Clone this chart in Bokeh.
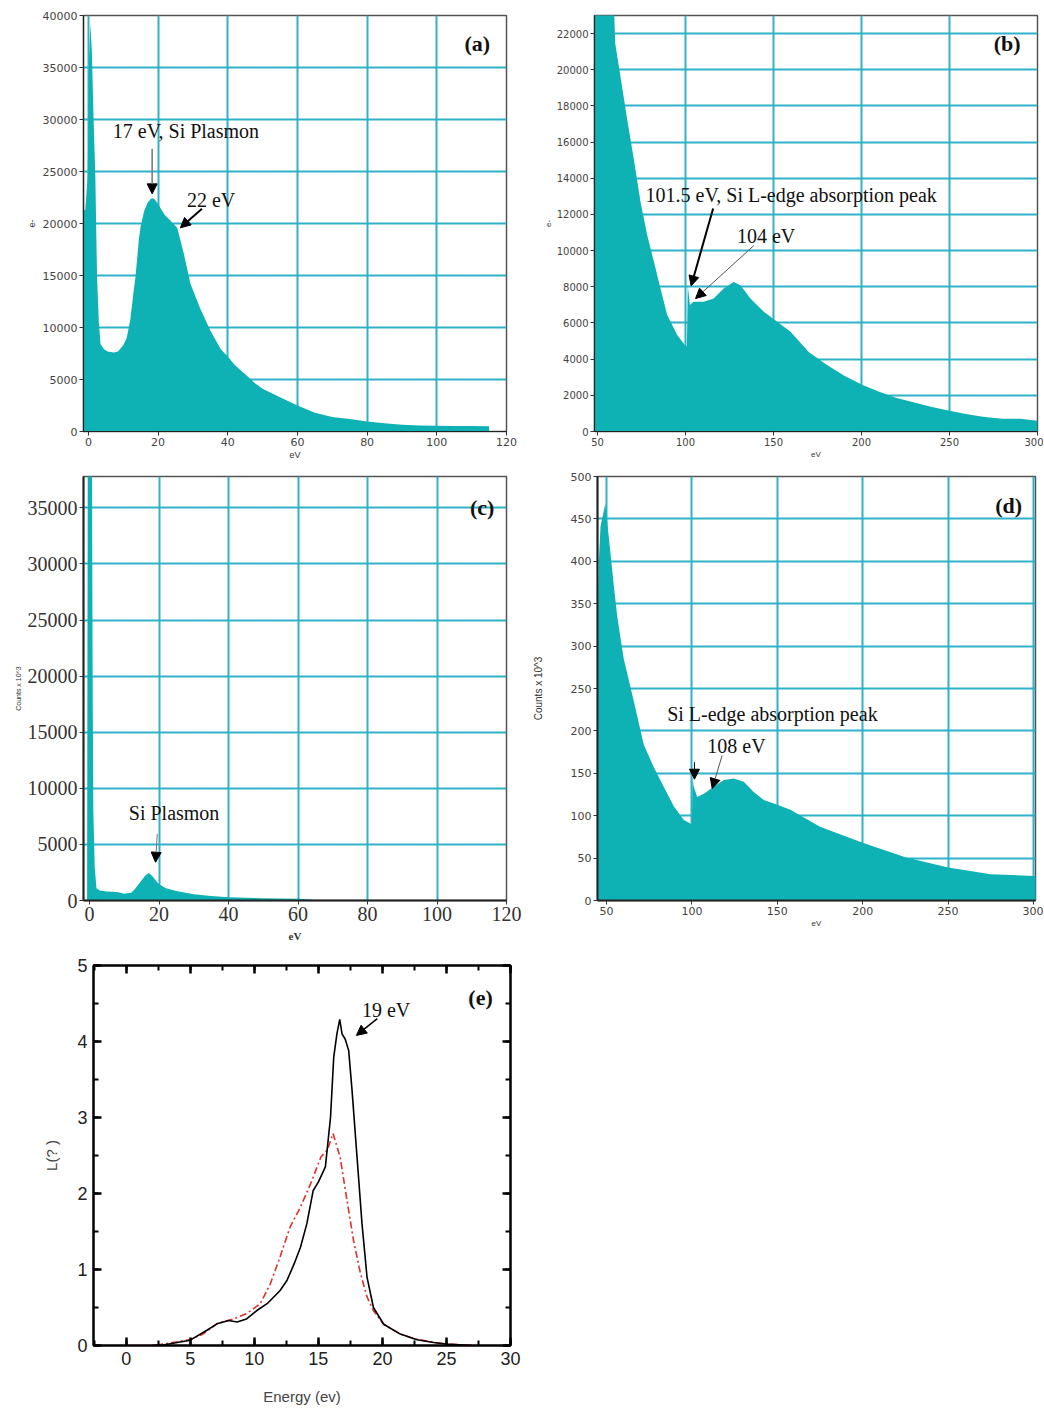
from bokeh.plotting import figure
from bokeh.layouts import column, row
from bokeh.models import (Range1d, FixedTicker, SingleIntervalTicker, LinearAxis,
                          Label, Arrow, NormalHead)
from bokeh.embed import file_html
from bokeh.resources import INLINE

# ---------------- data ----------------
# (a) low-loss spectrum, 0-120 eV
a_ev = [-1.5, -0.9, -0.2, 0.2, 0.6, 1.0, 1.5, 2.0, 2.5, 3.0, 3.5, 4.5, 5.5, 7.3, 8.5,
        10.0, 11.0, 12.0, 13.0, 13.5, 14.5, 15.0, 16.0, 17.0, 18.0, 18.8, 20.0, 21.0,
        22.0, 23.5, 25.5, 27.4, 29.3, 32.0, 35.0, 38.0, 40.0, 42.0, 45.0, 48.0, 50.0,
        55.0, 60.0, 65.0, 70.0, 75.0, 80.0, 85.0, 90.0, 95.0, 100.0, 105.0, 110.0, 115.0]
a_counts = [21300, 21300, 24500, 36000, 39200, 36500, 30000, 24500, 14800, 10500, 8400,
            7900, 7700, 7600, 7700, 8300, 9000, 10700, 13500, 14800, 18500, 19700, 21200,
            22000, 22400, 22400, 21900, 21300, 20800, 20300, 19600, 17100, 14200, 11900,
            9700, 7900, 7200, 6400, 5500, 4600, 4100, 3300, 2500, 1800, 1400, 1200, 960,
            800, 650, 570, 550, 540, 520, 500]

# (b) core-loss spectrum, 50-300 eV
b_ev = [48.3, 55, 59.2, 60.1, 63.1, 66.9, 70.7, 74.5, 78.3, 82.1, 85.8, 89.6, 95.3, 99.5,
        100.8, 101.3, 102.5, 104.6, 110.3, 116, 121.7, 127.4, 131.2, 136.9, 144.5, 152.1,
        159.7, 170, 180, 190, 200, 210, 220, 230, 240, 250, 260, 270, 280, 290, 300]
b_counts = [30000, 28000, 24000, 21440, 19600, 17230, 15030, 12660, 10830, 9370, 7900,
            6440, 5340, 4790, 4700, 8080, 7000, 7170, 7170, 7350, 7900, 8270, 8080, 7350,
            6620, 6070, 5520, 4400, 3700, 3100, 2600, 2200, 1850, 1600, 1350, 1150, 950,
            800, 700, 700, 600]

# (c) low-loss spectrum, second sample
c_ev = [-0.7, -0.5, 0.7, 0.9, 1.1, 1.5, 2.0, 3.0, 5.0, 8.0, 10.0, 12.0, 13.0, 14.0, 15.0,
        16.0, 17.0, 18.0, 19.0, 20.0, 22.0, 25.0, 30.0, 35.0, 40.0, 50.0, 60.0, 64.0]
c_counts = [0, 40000, 40000, 20000, 8000, 3000, 1100, 900, 800, 750, 600, 700, 1000, 1400,
            1800, 2200, 2450, 2200, 1800, 1450, 1100, 850, 550, 400, 280, 200, 150, 100]

# (d) core-loss spectrum, second sample (counts x 10^3)
d_ev = [44.7, 45.5, 46.5, 49.3, 52.3, 54.3, 56.3, 60.1, 66.0, 71.8, 77.7, 83.5, 89.4, 95.3,
        98.8, 100.0, 100.4, 101.0, 103.1, 107.0, 112.8, 118.7, 124.5, 130.4, 136.2, 142.1,
        150, 157.7, 175, 200, 225, 250, 275, 300, 303.3]
d_counts = [300, 400, 441, 468, 410, 371, 335, 285, 235, 184, 157, 134, 111, 95, 91, 89,
            146, 135, 122, 126, 134, 142, 144, 140, 128, 118.5, 113, 107, 87, 68, 51, 39,
            31, 29, 28]

# (e) loss function
e_black_x = [2.0, 3.0, 4.0, 5.0, 6.3, 7.1, 8.0, 8.65, 9.4, 10.2, 11.0, 12.0, 12.55, 13.1,
             13.6, 14.1, 14.6, 15.0, 15.55, 15.95, 16.2, 16.45, 16.67, 16.85, 17.1, 17.37,
             17.63, 18.02, 18.41, 18.8, 19.3, 20.1, 21.4, 22.7, 24.0, 25.0, 26.0, 27.0]
e_black_y = [0.0, 0.01, 0.04, 0.07, 0.2, 0.285, 0.33, 0.31, 0.35, 0.46, 0.55, 0.72, 0.855,
             1.07, 1.29, 1.6, 2.04, 2.15, 2.35, 3.0, 3.79, 4.1, 4.29, 4.1, 4.03, 3.88, 3.36,
             2.48, 1.6, 0.9, 0.5, 0.28, 0.15, 0.075, 0.04, 0.02, 0.01, 0.0]
e_red_x = [0.0, 2.0, 3.0, 4.0, 5.0, 6.0, 7.1, 8.4, 9.4, 10.47, 11.25, 12.0, 12.8, 13.6,
           14.4, 15.2, 15.7, 16.15, 16.7, 17.2, 17.75, 18.3, 18.8, 19.3, 20.1, 21.4, 22.5,
           24.0, 25.0, 26.0, 27.0]
e_red_y = [0.0, 0.0, 0.02, 0.05, 0.08, 0.15, 0.29, 0.35, 0.42, 0.55, 0.81, 1.16, 1.56,
           1.82, 2.13, 2.48, 2.57, 2.79, 2.48, 1.95, 1.38, 0.94, 0.64, 0.46, 0.28, 0.15,
           0.09, 0.04, 0.02, 0.01, 0.0]

a_xticks = [0, 20, 40, 60, 80, 100, 120]
a_yticks = [0, 5000, 10000, 15000, 20000, 25000, 30000, 35000, 40000]
b_xticks = [50, 100, 150, 200, 250, 300]
b_yticks = list(range(0, 24000, 2000))
c_yticks = [0, 5000, 10000, 15000, 20000, 25000, 30000, 35000]
d_yticks = list(range(0, 550, 50))

FILL = "#0fb2b4"
GRID = "#2fb1c7"
SERIF = "Liberation Serif"
SANS_SMALL = "DejaVu Sans"


def spectrum(width, height, borders, xr, yr, xticks, yticks, xlabel, ylabel,
             tick_font, tick_size, tick_color, axis_line_w=1.2):
    l, r, t, b = borders
    p = figure(width=width, height=height, x_range=Range1d(*xr), y_range=Range1d(*yr),
               output_backend="svg", toolbar_location=None,
               min_border_left=l, min_border_right=r, min_border_top=t, min_border_bottom=b)
    p.outline_line_color = "#555555"
    p.outline_line_width = 1.5
    p.xaxis.ticker = FixedTicker(ticks=xticks)
    p.yaxis.ticker = FixedTicker(ticks=yticks)
    p.xgrid.ticker = FixedTicker(ticks=xticks)
    p.ygrid.ticker = FixedTicker(ticks=yticks)
    p.grid.grid_line_color = GRID
    p.grid.grid_line_width = 2
    p.xaxis.axis_label = xlabel
    p.yaxis.axis_label = ylabel
    for ax in (p.xaxis, p.yaxis):
        ax.axis_line_color = "#222222"
        ax.axis_line_width = axis_line_w
        ax.major_tick_line_color = "#333333"
        ax.major_tick_out = 4
        ax.major_tick_in = 0
        ax.minor_tick_line_color = None
        ax.major_label_text_font = tick_font
        ax.major_label_text_font_size = tick_size
        ax.major_label_text_color = tick_color
        ax.major_label_standoff = 2
        ax.axis_label_text_font_style = "normal"
        ax.axis_label_text_color = "#333333"
    return p


def ann(p, text, x, y, size="20px", bold=False, align="left"):
    p.add_layout(Label(x=x, y=y, text=text, text_font=SERIF, text_font_size=size,
                       text_font_style="bold" if bold else "normal",
                       text_color="#111111", text_align=align, text_baseline="middle"))


def arrow(p, x0, y0, x1, y1, color="black", w=1.5, head=10):
    p.add_layout(Arrow(x_start=x0, y_start=y0, x_end=x1, y_end=y1,
                       line_color=color, line_width=w,
                       end=NormalHead(size=head, fill_color="black", line_color="black")))


# ---------------- (a) ----------------
pa = spectrum(526, 468, (83, 20, 15, 37), (-1.4, 120), (0, 40000), a_xticks, a_yticks,
              "eV", "e-", SANS_SMALL, "11px", "#444444")
pa.xaxis.axis_label_text_font_size = "9px"
pa.yaxis.axis_label_text_font_size = "9px"
pa.xaxis.axis_label_standoff = 1
pa.varea(x=a_ev, y1=0, y2=a_counts, fill_color=FILL)
ann(pa, "17 eV, Si Plasmon", 7.0, 28940)
arrow(pa, 18.3, 27180, 18.3, 22850, color="#777777")
ann(pa, "22 eV", 28.3, 22300)
arrow(pa, 32.6, 21410, 26.4, 19590, w=2)
ann(pa, "(a)", 111.6, 37280, size="22px", bold=True, align="center")

# ---------------- (b) ----------------
pb = spectrum(517, 468, (68, 6, 15, 34), (48.3, 300), (0, 23000), b_xticks, b_yticks,
              "eV", "e-", SANS_SMALL, "10px", "#444444")
pb.xaxis.axis_label_text_font_size = "8px"
pb.yaxis.axis_label_text_font_size = "8px"
pb.xaxis.axis_label_standoff = 1
pb.yaxis.axis_label_standoff = 3
pb.varea(x=b_ev, y1=0, y2=b_counts, fill_color=FILL)
ann(pb, "101.5 eV, Si L-edge absorption peak", 77.3, 13060)
arrow(pb, 115.7, 12330, 103.2, 8050, w=2)
ann(pb, "104 eV", 129.2, 10810)
arrow(pb, 138.8, 10280, 105.7, 7350, color="#555555", w=1)
ann(pb, "(b)", 282.8, 21440, size="22px", bold=True, align="center")

# ---------------- (c) ----------------
pc = spectrum(526, 482, (83, 20, 7, 50), (-1.73, 120), (0, 37800), a_xticks, c_yticks,
              "eV", "Counts x 10^3", SERIF, "20px", "#333333", axis_line_w=2)
pc.xaxis.axis_label_text_font = SERIF
pc.xaxis.axis_label_text_font_style = "bold"
pc.xaxis.axis_label_text_font_size = "11px"
pc.xaxis.axis_label_standoff = 6
pc.yaxis.axis_label_text_font_size = "7px"
pc.yaxis.axis_label_standoff = 3
pc.varea(x=c_ev, y1=0, y2=c_counts, fill_color=FILL)
ann(pc, "Si Plasmon", 11.3, 7810)
arrow(pc, 19.5, 5940, 19.0, 3410, color="#777777", w=1)
ann(pc, "(c)", 113, 35040, size="22px", bold=True, align="center")

# ---------------- (d) ----------------
pd_ = spectrum(517, 482, (71, 8, 8, 45), (44.73, 301.2), (0, 500), b_xticks, d_yticks,
               "eV", "Counts x 10^3", SANS_SMALL, "11px", "#444444", axis_line_w=2)
pd_.xaxis.axis_label_text_font_size = "8px"
pd_.yaxis.axis_label_text_font_size = "10px"
pd_.yaxis.axis_label_standoff = 24
pd_.xaxis.axis_label_standoff = 1
pd_.varea(x=d_ev, y1=0, y2=d_counts, fill_color=FILL)
ann(pd_, "Si L-edge absorption peak", 85.5, 219.5)
ann(pd_, "108 eV", 109, 182.6)
arrow(pd_, 101.5, 163, 101.5, 143, w=1)
arrow(pd_, 117.7, 171, 111.9, 132, color="#555555", w=1)
ann(pd_, "(d)", 285.5, 466, size="22px", bold=True, align="center")

# ---------------- (e) ----------------
pe = figure(width=526, height=459, x_range=Range1d(-2.55, 30), y_range=Range1d(0, 5),
            output_backend="svg", toolbar_location=None,
            min_border_left=93, min_border_right=16, min_border_top=15, min_border_bottom=64)
pe.grid.grid_line_color = None
pe.outline_line_color = "black"
pe.outline_line_width = 2
pe.xaxis.ticker = SingleIntervalTicker(interval=5, num_minor_ticks=2)
pe.yaxis.ticker = SingleIntervalTicker(interval=1, num_minor_ticks=2)
pe.add_layout(LinearAxis(ticker=SingleIntervalTicker(interval=5, num_minor_ticks=2)), "above")
pe.add_layout(LinearAxis(ticker=SingleIntervalTicker(interval=1, num_minor_ticks=2)), "right")
pe.below[0].axis_label = "Energy (ev)"
pe.left[0].axis_label = "L(? )"
for ax in pe.below + pe.left + pe.above + pe.right:
    ax.axis_line_color = "black"
    ax.axis_line_width = 2
    ax.major_tick_in = 8
    ax.major_tick_out = 0
    ax.minor_tick_in = 5
    ax.minor_tick_out = 0
    ax.major_tick_line_width = 2.5
    ax.minor_tick_line_width = 2
    ax.major_label_text_font = "Liberation Sans"
    ax.major_label_text_font_size = "18px"
    ax.major_label_text_color = "#222222"
    ax.major_label_standoff = 6
    ax.axis_label_text_font = "Liberation Sans"
    ax.axis_label_text_font_size = "15px"
    ax.axis_label_text_font_style = "normal"
    ax.axis_label_standoff = 14
pe.below[0].axis_label_standoff = 20
for ax in pe.above + pe.right:
    ax.major_label_text_font_size = "1px"
    ax.major_label_text_color = None
    ax.major_label_standoff = 0
pe.line(e_red_x, e_red_y, line_color="#e0302a", line_width=1.6, line_dash="7 3 2 3")
pe.line(e_black_x, e_black_y, line_color="black", line_width=1.6)
ann(pe, "19 eV", 18.4, 4.41)
arrow(pe, 19.6, 4.30, 17.97, 4.08, w=1.5)
ann(pe, "(e)", 27.66, 4.58, size="22px", bold=True, align="center")

layout = column(row(pa, pb), row(pc, pd_), pe)
open("out.html", "w").write(file_html(layout, INLINE))
